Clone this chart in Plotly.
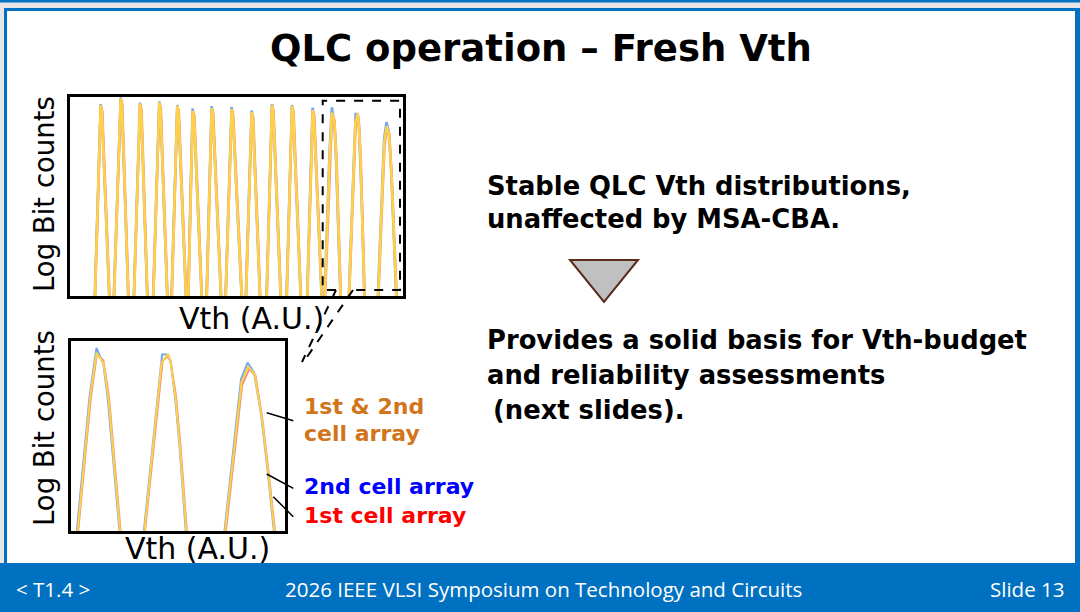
import plotly.graph_objects as go

W, H = 1080, 612

# --- data: Vth (A.U.) and log bit counts for each state peak, per series ---
# "1st & 2nd cell array" (gold overlay)
GOLD_VTH = [
    [2.50, 3.07, 3.19, 3.93], [4.40, 5.07, 5.19, 5.83], [6.40, 7.00, 7.12, 7.73],
    [8.33, 8.93, 9.05, 9.73], [10.17, 10.73, 10.85, 11.60], [11.83, 12.27, 12.40, 13.17],
    [13.67, 14.17, 14.29, 15.10], [15.57, 16.17, 16.29, 17.17], [17.60, 18.17, 18.29, 19.00],
    [19.67, 20.20, 20.32, 21.07], [21.67, 22.20, 22.32, 23.07], [23.73, 24.27, 24.39, 25.17],
    [25.49, 25.96, 26.19, 26.37, 26.44, 26.62, 26.80, 27.06],
    [27.90, 28.54, 28.78, 28.86, 29.04, 29.20, 29.45],
    [30.81, 31.43, 31.67, 31.90, 32.15, 32.39, 32.64],
]
GOLD_LOG = [
    [0, 4.80, 4.62, 0], [0, 4.97, 4.80, 0], [0, 4.84, 4.66, 0],
    [0, 4.87, 4.70, 0], [0, 4.78, 4.60, 0], [0, 4.65, 4.50, 0],
    [0, 4.72, 4.55, 0], [0, 4.70, 4.52, 0], [0, 4.62, 4.45, 0],
    [0, 4.80, 4.62, 0], [0, 4.78, 4.60, 0], [0, 4.67, 4.50, 0],
    [0, 3.49, 4.61, 4.45, 4.36, 3.49, 2.07, 0],
    [0, 4.36, 4.59, 4.40, 3.52, 2.30, 0],
    [0, 3.88, 4.26, 4.08, 3.05, 1.64, 0],
]

# "2nd cell array" (blue)
BLUE_VTH = [
    [2.48, 3.07, 3.18, 3.92], [4.38, 5.07, 5.18, 5.82], [6.38, 7.00, 7.11, 7.72],
    [8.31, 8.93, 9.04, 9.72], [10.15, 10.73, 10.84, 11.59], [11.81, 12.26, 12.39, 13.16],
    [13.65, 14.16, 14.28, 15.09], [15.55, 16.16, 16.28, 17.16], [17.58, 18.16, 18.28, 18.99],
    [19.65, 20.20, 20.31, 21.06], [21.65, 22.20, 22.31, 23.06], [23.71, 24.26, 24.38, 25.16],
    [25.46, 25.94, 26.19, 26.33, 26.44, 26.60, 26.78, 27.04],
    [27.88, 28.52, 28.56, 28.72, 28.80, 28.88, 29.03, 29.19, 29.43],
    [30.79, 31.41, 31.65, 31.88, 32.13, 32.37, 32.62],
]
BLUE_LOG = [
    [0, 4.82, 4.62, 0], [0, 4.99, 4.80, 0], [0, 4.86, 4.66, 0],
    [0, 4.89, 4.70, 0], [0, 4.80, 4.60, 0], [0, 4.71, 4.50, 0],
    [0, 4.77, 4.55, 0], [0, 4.75, 4.52, 0], [0, 4.66, 4.45, 0],
    [0, 4.82, 4.62, 0], [0, 4.80, 4.60, 0], [0, 4.73, 4.50, 0],
    [0, 3.52, 4.74, 4.48, 4.33, 3.45, 2.02, 0],
    [0, 4.40, 4.57, 4.57, 4.52, 4.35, 3.50, 2.28, 0],
    [0, 3.95, 4.37, 4.12, 3.10, 1.68, 0],
]

# "1st cell array" (red)
RED_VTH = [
    [2.51, 3.08, 3.22, 3.95], [4.41, 5.08, 5.22, 5.85], [6.41, 7.01, 7.15, 7.75],
    [8.34, 8.94, 9.08, 9.75], [10.18, 10.74, 10.88, 11.62], [11.84, 12.28, 12.43, 13.19],
    [13.68, 14.18, 14.32, 15.12], [15.58, 16.18, 16.32, 17.19], [17.61, 18.18, 18.32, 19.02],
    [19.68, 20.21, 20.35, 21.09], [21.68, 22.21, 22.35, 23.09], [23.74, 24.28, 24.42, 25.19],
    [25.51, 25.98, 26.20, 26.30, 26.44, 26.64, 26.82, 27.08],
    [27.92, 28.58, 28.76, 28.86, 29.06, 29.22, 29.47],
    [30.84, 31.45, 31.70, 31.93, 32.17, 32.41, 32.66],
]
RED_LOG = [
    [0, 4.78, 4.65, 0], [0, 4.95, 4.82, 0], [0, 4.82, 4.68, 0],
    [0, 4.85, 4.72, 0], [0, 4.76, 4.63, 0], [0, 4.63, 4.54, 0],
    [0, 4.70, 4.58, 0], [0, 4.68, 4.56, 0], [0, 4.60, 4.49, 0],
    [0, 4.78, 4.65, 0], [0, 4.76, 4.63, 0], [0, 4.65, 4.54, 0],
    [0, 3.45, 4.57, 4.50, 4.42, 3.52, 2.10, 0],
    [0, 4.41, 4.53, 4.42, 3.55, 2.32, 0],
    [0, 3.80, 4.20, 4.05, 3.02, 1.62, 0],
]

SERIES = [
    ("2nd cell array", BLUE_VTH, BLUE_LOG, "#78a6ec"),
    ("1st cell array", RED_VTH, RED_LOG, "#f4907a"),
    ("1st & 2nd cell array", GOLD_VTH, GOLD_LOG, "#fdd24a"),
]

TITLE = "QLC operation – Fresh Vth"
RIGHT_LINES = ["Stable QLC Vth distributions,", "unaffected by MSA-CBA.",
               "Provides a solid basis for Vth-budget", "and reliability assessments",
               "(next slides)."]
FOOTER = ["< T1.4 >", "2026 IEEE VLSI Symposium on Technology and Circuits", "Slide 13"]


def fx(x):
    return x / W


def fy(y):
    return 1 - y / H


def join_peaks(vths, logs):
    xs, ys = [], []
    for vx, vy in zip(vths, logs):
        xs += vx + [None]
        ys += vy + [None]
    return xs, ys


fig = go.Figure()
for name, vth, lg, col in SERIES:
    xs, ys = join_peaks(vth, lg)
    fig.add_trace(go.Scatter(x=xs, y=ys, mode="lines", name=name,
                             line=dict(color=col, width=2.6), xaxis="x", yaxis="y"))
    fig.add_trace(go.Scatter(x=xs, y=ys, mode="lines", name=name, showlegend=False,
                             line=dict(color=col, width=2.0), xaxis="x2", yaxis="y2"))

frame_ax = dict(showline=True, mirror=True, linewidth=3, linecolor="black",
                showgrid=False, zeroline=False, showticklabels=False, ticks="", fixedrange=True)
fig.update_layout(
    width=W, height=H, margin=dict(l=0, r=0, t=0, b=0),
    paper_bgcolor="#e6e6e6", plot_bgcolor="white", showlegend=False,
    xaxis=dict(domain=[fx(70), fx(403)], range=[0, 33.3], anchor="y", **frame_ax),
    yaxis=dict(domain=[fy(296), fy(97)], range=[0, 5], anchor="x", **frame_ax),
    xaxis2=dict(domain=[fx(71), fx(285)], range=[25.27, 33.0], anchor="y2", **frame_ax),
    yaxis2=dict(domain=[fy(531), fy(341)], range=[0.15, 4.91], anchor="x2", **frame_ax),
)

# slide background
shapes = [
    dict(type="rect", xref="paper", yref="paper", x0=0, x1=1, y0=fy(0), y1=fy(2.5),
         fillcolor="#0070c0", line_width=0, layer="below"),
    dict(type="rect", xref="paper", yref="paper", x0=fx(4), x1=1, y0=fy(8), y1=0,
         fillcolor="#0070c0", line_width=0, layer="below"),
    dict(type="rect", xref="paper", yref="paper", x0=fx(7), x1=fx(1075), y0=fy(11), y1=fy(563),
         fillcolor="white", line_width=0, layer="below"),
    dict(type="rect", xref="paper", yref="paper", x0=0, x1=1, y0=fy(563), y1=0,
         fillcolor="#0070c0", line_width=0, layer="below"),
]
# zoom box + connector lines
dash = dict(color="black", width=2, dash="dash")
box = [(336, 290), (322.7, 290), (322.7, 100.7), (400, 100.7), (400, 290), (353, 290)]
path = "M " + " L ".join(f"{fx(a):.5f},{fy(b):.5f}" for a, b in box)
shapes.append(dict(type="path", xref="paper", yref="paper", path=path, line=dash))
shapes.append(dict(type="line", xref="paper", yref="paper", x0=fx(336), y0=fy(290),
                   x1=fx(302), y1=fy(362), line=dash))
shapes.append(dict(type="line", xref="paper", yref="paper", x0=fx(353), y0=fy(290),
                   x1=fx(305), y1=fy(360), line=dash))
# label leader lines
for (a, b, c, d) in [(266.7, 412.7, 293.3, 420.7), (266.7, 474, 293.3, 488.3),
                     (273.3, 496.7, 293.3, 516.7)]:
    shapes.append(dict(type="line", xref="paper", yref="paper", x0=fx(a), y0=fy(b),
                       x1=fx(c), y1=fy(d), line=dict(color="black", width=1.5)))
# triangle
tri = [(570, 260), (638, 260), (604, 302)]
tpath = "M " + " L ".join(f"{fx(a):.5f},{fy(b):.5f}" for a, b in tri) + " Z"
shapes.append(dict(type="path", xref="paper", yref="paper", path=tpath,
                   fillcolor="#c0c0c0", line=dict(color="#5a2a1a", width=2)))
fig.update_layout(shapes=shapes)


def note(text, x, y, size, color="black", xanchor="left", family="DejaVu Sans",
         weight="normal", angle=0):
    fig.add_annotation(text=text, x=fx(x), y=fy(y), xref="paper", yref="paper",
                       xanchor=xanchor, yanchor="middle", showarrow=False, textangle=angle,
                       font=dict(family=family, size=size, color=color, weight=weight))


note(TITLE, 541, 49, 37, xanchor="center", weight="bold")
for txt, yy in zip(RIGHT_LINES, [186, 219, 340, 375, 410]):
    note(txt, 491 if txt.startswith("(") else 485, yy, 25.8, weight="bold")

note("Vth (A.U.)", 251, 318, 30, xanchor="center")
note("Vth (A.U.)", 197, 548, 30, xanchor="center")
note("Log Bit counts", 44, 194, 27.5, xanchor="center", angle=-90)
note("Log Bit counts", 44, 428, 27.5, xanchor="center", angle=-90)

note("1st &amp; 2nd", 302, 406, 22, color="#d2741a", weight="bold")
note("cell array", 302, 433, 22, color="#d2741a", weight="bold")
note("2nd cell array", 302, 487, 22, color="#0000ff", weight="bold")
note("1st cell array", 302, 515, 22, color="#ff0000", weight="bold")

note(FOOTER[0], 14, 589, 20.5, color="white", family="Open Sans")
note(FOOTER[1], 543, 589, 20.5, color="white", xanchor="center", family="Open Sans")
note(FOOTER[2], 1066, 589, 20.5, color="white", xanchor="right", family="Open Sans")

fig.write_html("out.html", config={"displayModeBar": False},
               post_script="document.body.style.margin='0';")
